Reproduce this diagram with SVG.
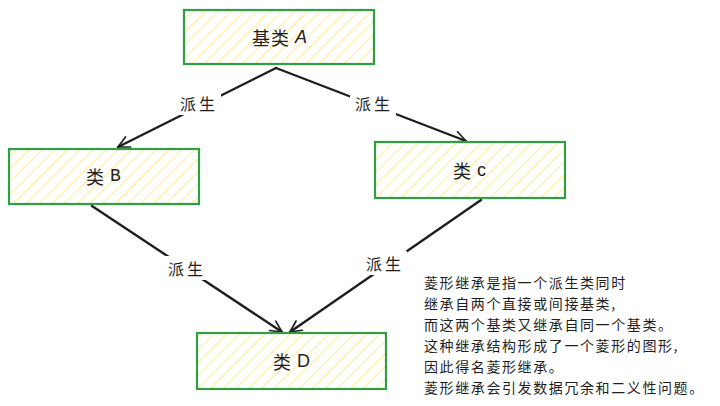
<svg xmlns="http://www.w3.org/2000/svg" width="720" height="406" viewBox="0 0 720 406">
<style>
.box{fill:url(#hatch);stroke:#2f9e44;stroke-width:2.2}
.lbl{font-family:"Noto Sans CJK SC","Liberation Sans",sans-serif;font-size:18px;fill:#1e1e1e;text-anchor:middle;dominant-baseline:central;letter-spacing:1px}
.edge{fill:none;stroke:#1e1e1e;stroke-width:2.4;stroke-linecap:round}
.elbl{font-family:"Noto Sans CJK SC",sans-serif;font-size:16px;fill:#1e1e1e;text-anchor:middle;dominant-baseline:central;letter-spacing:3px}
.bg{fill:#ffffff}
.note{font-family:"Noto Sans CJK SC",sans-serif;font-size:14px;fill:#1e1e1e;letter-spacing:1.6px}
</style>
<defs>
<pattern id="hatch" patternUnits="userSpaceOnUse" width="9" height="9" patternTransform="rotate(45)">
<rect width="9" height="9" fill="#ffffff"/>
<line x1="0" y1="0" x2="0" y2="9" stroke="#ffec99" stroke-width="2.2"/>
</pattern>
<marker id="arr" viewBox="0 0 20 20" refX="18" refY="10" markerWidth="14" markerHeight="14" orient="auto" markerUnits="userSpaceOnUse">
<path d="M2 2 L18 10 L2 18" fill="none" stroke="#1e1e1e" stroke-width="2.4" stroke-linecap="round"/>
</marker>
</defs>
<rect width="720" height="406" fill="#ffffff"/>
<g id="connectors">
<path class="edge" d="M276 68 L118 147" marker-end="url(#arr)"/>
<path class="edge" d="M276 68 L466 141" marker-end="url(#arr)"/>
<path class="edge" d="M92 206 L282 332" marker-end="url(#arr)"/>
<path class="edge" d="M481 200 L290 332" marker-end="url(#arr)"/>
<rect class="bg" x="175" y="91" width="46" height="24"/>
<text class="elbl" x="199" y="103">派生</text>
<rect class="bg" x="350" y="91" width="46" height="24"/>
<text class="elbl" x="374" y="103">派生</text>
<rect class="bg" x="163" y="256" width="46" height="24"/>
<text class="elbl" x="187" y="268">派生</text>
<rect class="bg" x="361" y="251" width="46" height="24"/>
<text class="elbl" x="385" y="263">派生</text>
</g>
<g id="nodeA">
<rect class="box" x="184" y="10" width="190" height="54"/>
<text class="lbl" x="280" y="37">基类 <tspan font-style="italic" font-family="Liberation Sans, sans-serif">A</tspan></text>
</g>
<g id="nodeB">
<rect class="box" x="9" y="149" width="190" height="55"/>
<text class="lbl" x="104" y="176">类 <tspan font-family="Liberation Mono, monospace">B</tspan></text>
</g>
<g id="nodeC">
<rect class="box" x="375" y="142" width="190" height="56"/>
<text class="lbl" x="470" y="170">类 <tspan font-family="Liberation Sans, sans-serif">c</tspan></text>
</g>
<g id="nodeD">
<rect class="box" x="197" y="333" width="189" height="56"/>
<text class="lbl" x="292" y="361">类 <tspan font-family="Liberation Sans, sans-serif">D</tspan></text>
</g>
<g id="note">
<text class="note" x="424" y="288">菱形继承是指一个派生类同时</text>
<text class="note" x="424" y="309">继承自两个直接或间接基类,</text>
<text class="note" x="424" y="330">而这两个基类又继承自同一个基类。</text>
<text class="note" x="424" y="351">这种继承结构形成了一个菱形的图形,</text>
<text class="note" x="424" y="372">因此得名菱形继承。</text>
<text class="note" x="424" y="393">菱形继承会引发数据冗余和二义性问题。</text>
</g>
</svg>
